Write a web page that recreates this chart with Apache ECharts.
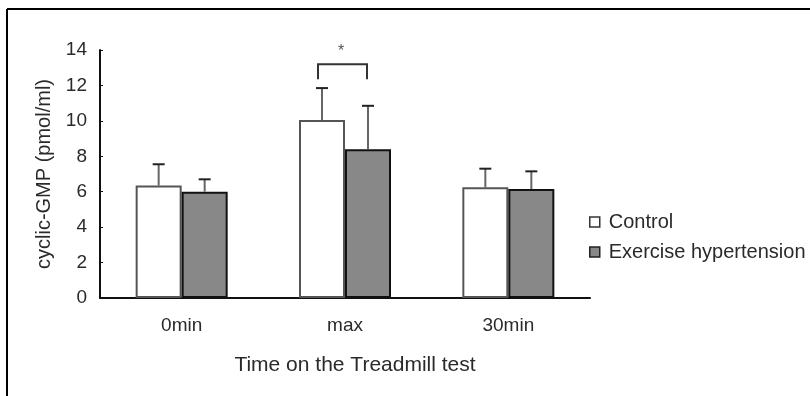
<!DOCTYPE html>
<html>
<head>
<meta charset="utf-8">
<script src="https://cdn.jsdelivr.net/npm/echarts@6/dist/echarts.min.js"></script>
<style>
html,body{margin:0;padding:0;background:#fff;}
#chart{width:810px;height:396px;}
</style>
</head>
<body>
<div id="chart"></div>
<script>
// category labels and group values (mean, SD)
var categories = ['0min', 'max', '30min'];
var controlMean = [6.35, 10.05, 6.25];
var controlSD = [1.2, 1.8, 1.05];
var hyperMean = [6.0, 8.4, 6.15];
var hyperSD = [0.7, 2.45, 1.0];
// significance bracket: [category index, bracket top, leg bottom, star level]
var signif = [[1, 13.2, 12.35, 14.1]];
var yTicks = [0, 2, 4, 6, 8, 10, 12, 14];

var FONT = 'Liberation Sans';
var BAR_W = 46;
var TXT = '#2a2a2a';

var chart = echarts.init(document.getElementById('chart'));

function errorItem(offset) {
  return function (params, api) {
    var x = api.value(0);
    var mean = api.value(1);
    var sd = api.value(2);
    var base = api.coord([x, mean]);
    var top = api.coord([x, mean + sd]);
    var cx = base[0] + offset;
    return {
      type: 'group',
      children: [
        { type: 'line', shape: { x1: cx, y1: base[1], x2: cx, y2: top[1] },
          style: { stroke: '#666', lineWidth: 2 } },
        { type: 'line', shape: { x1: cx - 6, y1: top[1], x2: cx + 6, y2: top[1] },
          style: { stroke: '#222', lineWidth: 2 } }
      ]
    };
  };
}

var controlErr = categories.map(function (c, i) { return [i, controlMean[i], controlSD[i]]; });
var hyperErr = categories.map(function (c, i) { return [i, hyperMean[i], hyperSD[i]]; });

chart.setOption({
  animation: false,
  textStyle: { fontFamily: FONT },
  graphic: [
    { type: 'line', shape: { x1: 7, y1: 9, x2: 810, y2: 9 }, style: { stroke: '#000', lineWidth: 2 } },
    { type: 'line', shape: { x1: 7, y1: 9, x2: 7, y2: 396 }, style: { stroke: '#000', lineWidth: 2 } }
  ],
  grid: { left: 100, right: 220, top: 50, bottom: 98 },
  legend: {
    orient: 'vertical',
    left: 584,
    top: 207,
    itemWidth: 10,
    itemHeight: 10,
    itemGap: 10,
    textStyle: { fontFamily: FONT, fontSize: 20, color: TXT, padding: [0, 0, 0, 4] },
    data: [
      { name: 'Control', icon: 'rect', itemStyle: { color: '#fff', borderColor: '#333', borderWidth: 1.5 } },
      { name: 'Exercise hypertension', icon: 'rect', itemStyle: { color: '#888', borderColor: '#222', borderWidth: 1.5 } }
    ]
  },
  xAxis: {
    type: 'category',
    data: categories,
    boundaryGap: true,
    axisLine: { lineStyle: { color: '#111', width: 2 } },
    axisTick: { inside: true, length: 4, lineStyle: { color: '#111' } },
    axisLabel: { margin: 18, fontSize: 19, color: TXT, fontFamily: FONT },
    name: 'Time on the Treadmill test',
    nameLocation: 'middle',
    nameGap: 57,
    nameTextStyle: { fontSize: 21, color: TXT, fontFamily: FONT, padding: [0, 0, 0, 20] }
  },
  yAxis: {
    type: 'value',
    min: yTicks[0],
    max: yTicks[yTicks.length - 1],
    interval: 2,
    splitLine: { show: false },
    axisLine: { show: true, lineStyle: { color: '#111', width: 2 } },
    axisTick: { show: true, inside: true, length: 3, lineStyle: { color: '#111' } },
    axisLabel: { margin: 13, fontSize: 19, color: TXT, fontFamily: FONT },
    name: 'cyclic-GMP (pmol/ml)',
    nameLocation: 'middle',
    nameRotate: 90,
    nameGap: 44,
    nameTextStyle: { fontSize: 20, color: TXT, fontFamily: FONT }
  },
  series: [
    {
      name: 'Control',
      type: 'bar',
      data: controlMean,
      barWidth: BAR_W,
      barGap: '0%',
      itemStyle: { color: '#fff', borderColor: '#555', borderWidth: 2 }
    },
    {
      name: 'Exercise hypertension',
      type: 'bar',
      data: hyperMean,
      barWidth: BAR_W,
      barGap: '0%',
      itemStyle: { color: '#888', borderColor: '#111', borderWidth: 2 }
    },
    {
      type: 'custom',
      name: 'controlErr',
      data: controlErr,
      renderItem: errorItem(-BAR_W / 2),
      z: 5
    },
    {
      type: 'custom',
      name: 'hyperErr',
      data: hyperErr,
      renderItem: errorItem(BAR_W / 2),
      z: 5
    },
    {
      type: 'custom',
      name: 'signif',
      data: signif,
      clip: false,
      z: 6,
      renderItem: function (params, api) {
        var x = api.value(0);
        var top = api.coord([x, api.value(1)]);
        var leg = api.coord([x, api.value(2)]);
        var star = api.coord([x, api.value(3)]);
        var x1 = top[0] - BAR_W / 2 - 4;
        var x2 = top[0] + BAR_W / 2 - 1;
        return {
          type: 'group',
          children: [
            { type: 'polyline', shape: { points: [[x1, leg[1]], [x1, top[1]], [x2, top[1]], [x2, leg[1]]] },
              style: { stroke: '#333', lineWidth: 2, fill: null } },
            { type: 'text', style: { x: top[0] - 4, y: star[1] + 3, text: '*', fontSize: 16, fill: '#555',
              fontFamily: FONT, align: 'center', verticalAlign: 'middle' } }
          ]
        };
      }
    }
  ]
});
</script>
</body>
</html>
